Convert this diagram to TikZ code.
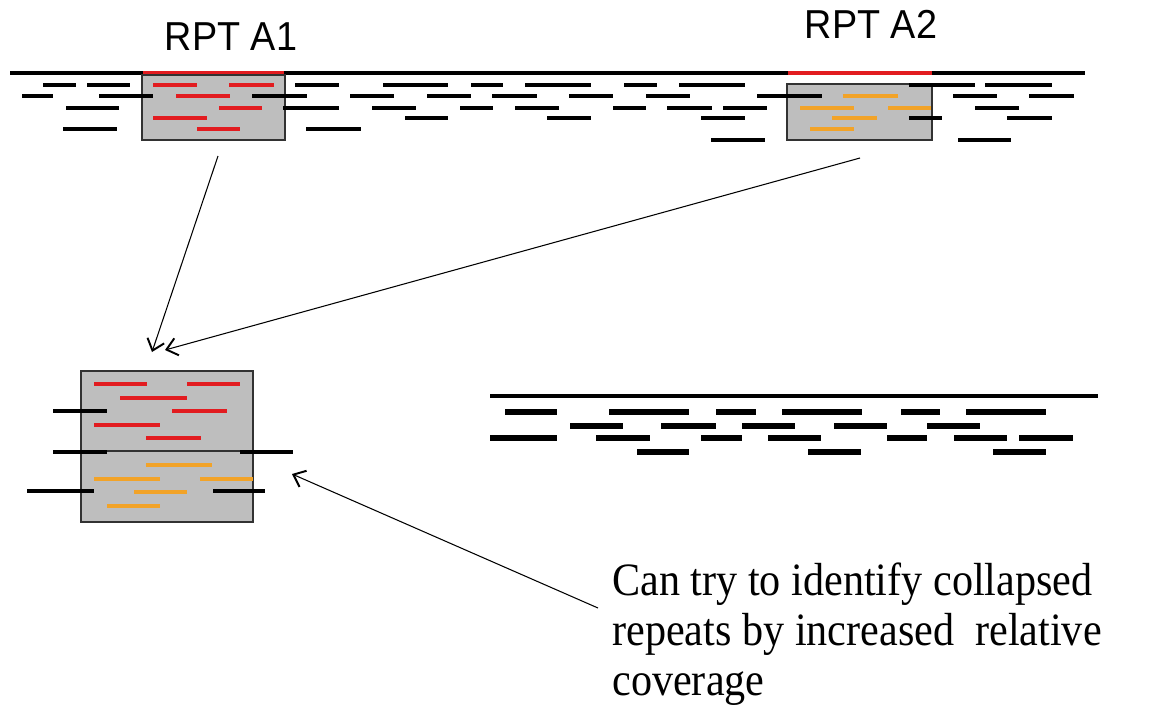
\documentclass[tikz,border=0pt]{standalone}
\usepackage{fontspec}
\setmainfont{Liberation Serif}
\newfontfamily\lblfont{Liberation Sans}
\usetikzlibrary{arrows.meta, positioning}
\definecolor{readred}{RGB}{226,28,32}
\definecolor{readorange}{RGB}{242,163,40}
\definecolor{boxgray}{RGB}{190,190,190}
\definecolor{boxedge}{RGB}{50,50,50}
\tikzset{
  genome/.style={line width=2.1pt, black},
  rd/.style={line width=2.7pt, black},
  rdred/.style={rd, readred},
  rdorg/.style={rd, readorange},
  rdbig/.style={line width=3.1pt, black},
  rptbox/.style={rectangle, draw=boxedge, fill=boxgray, line width=1pt, inner sep=0pt},
  arr/.style={-{Straight Barb[length=6pt, width=10pt, line width=1.1pt]}, line width=0.6pt},
  lbl/.style={font=\lblfont\fontsize{21.5}{24}\selectfont},
  note/.style={font=\fontsize{24}{25.9}\selectfont, inner sep=0pt}
}
\begin{document}
\begin{tikzpicture}[x=0.02cm, y=-0.02cm]
  \useasboundingbox (0,0) rectangle (1156,704);

  % reference with two repeat copies
  \draw[genome] (10,73) -- (1085,73);
  \draw[genome, readred] (143,73) -- (284,73);
  \draw[genome, readred] (788,73) -- (932,73);
  \node[lbl] (lblA1) at (231,37) {\scalebox{1}[1.07]{RPT A1}};
  \node[lbl] (lblA2) at (871,24) {\scalebox{1}[1.07]{RPT A2}};

  \node[rptbox, minimum width=2.86cm, minimum height=1.3cm] (a1) at (213.5,107.5) {};
  \node[rptbox, minimum width=2.9cm, minimum height=1.12cm] (a2) at (859.5,112) {};

  \foreach \a/\b/\y in {43/76/85, 87/130/85, 295/339/85, 383/448/85, 471/503/85,
      525/591/85, 624/657/85, 679/745/85, 909/975/85, 985/1052/85,
      22/53/96, 99/153/96, 252/307/96, 350/394/96, 427/471/96, 492/537/96,
      569/613/96, 646/690/96, 757/822/96, 953/997/96, 1029/1074/96,
      66/119/108, 283/339/108, 372/416/108, 460/493/108, 515/559/108,
      613/646/108, 667/712/108, 723/767/108, 975/1019/108,
      405/448/118, 547/591/118, 701/745/118, 909/942/118, 1007/1052/118,
      63/117/129, 306/361/129, 711/765/140, 958/1011/140}
    \draw[rd] (\a,\y) -- (\b,\y);
  \foreach \a/\b/\y in {153/197/85, 229/274/85, 176/230/96, 219/262/108,
      153/207/118, 197/240/129}
    \draw[rdred] (\a,\y) -- (\b,\y);
  \foreach \a/\b/\y in {843/898/96, 800/854/108, 888/931/108, 832/877/118, 810/854/129}
    \draw[rdorg] (\a,\y) -- (\b,\y);

  % collapsed repeat
  \node[rptbox, minimum width=3.44cm, minimum height=3.02cm] (col) at (167,446.5) {};
  \draw[boxedge, line width=1pt] (col.west |- 0,451) -- (col.east |- 0,451);
  \foreach \a/\b/\y in {94/147/384, 187/240/384, 120/187/398, 172/227/411,
      94/160/425, 146/201/438}
    \draw[rdred] (\a,\y) -- (\b,\y);
  \foreach \a/\b/\y in {146/212/465, 94/160/479, 200/253/479, 134/187/492, 107/160/506}
    \draw[rdorg] (\a,\y) -- (\b,\y);
  \foreach \a/\b/\y in {53/107/411, 53/107/452, 240/293/452, 27/94/491, 213/265/491}
    \draw[rd] (\a,\y) -- (\b,\y);

  % unique region
  \draw[genome, line width=2.6pt] (490,396) -- (1098,396);
  \foreach \a/\b/\y in {505/557/412, 609/689/412, 716/756/412, 782/862/412,
      901/940/412, 966/1046/412,
      570/623/426, 661/716/426, 742/795/426, 834/887/426, 927/980/426,
      490/557/438, 596/650/438, 701/742/438, 768/821/438, 887/927/438,
      954/1007/438, 1019/1073/438,
      637/689/452, 808/861/452, 993/1046/452}
    \draw[rdbig] (\a,\y) -- (\b,\y);

  \node[note, anchor=north west] (note) at (612,560)
    {\scalebox{1}[1.1]{\begin{tabular}{@{}l@{}}Can try to identify collapsed\\
      repeats by increased\ \ relative\\coverage\end{tabular}}};

  \coordinate (a1tail) at (218,156);
  \coordinate (a2tail) at (860,158);
  \coordinate (tip1) at (152,352);
  \coordinate (tip2) at (165,350);
  \coordinate (notetail) at (598,608);
  \coordinate (tip3) at (292,474);
  \draw[arr] (a1tail) -- (tip1);
  \draw[arr] (a2tail) -- (tip2);
  \draw[arr] (notetail) -- (tip3);
\end{tikzpicture}
\end{document}
